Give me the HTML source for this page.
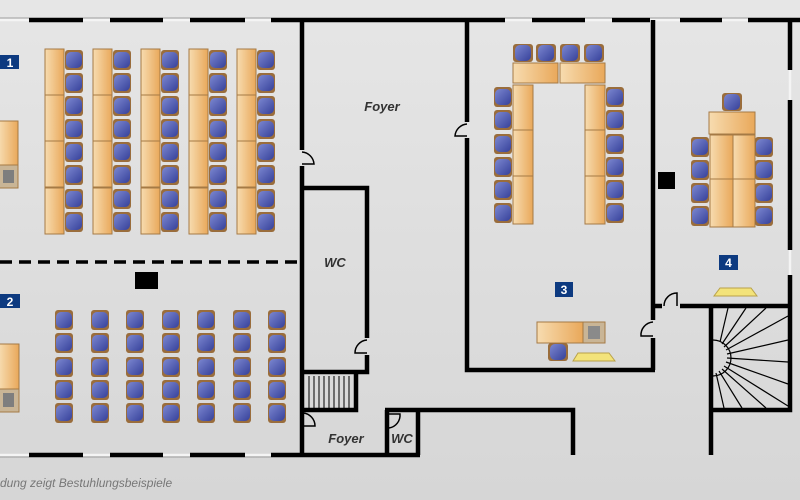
<!DOCTYPE html>
<html><head><meta charset="utf-8"><style>
html,body{margin:0;padding:0;background:#dcdcdc;}
svg{display:block}
text{font-family:"Liberation Sans",sans-serif;}
</style></head><body>
<svg width="800" height="500" viewBox="0 0 800 500" xmlns="http://www.w3.org/2000/svg">
<defs>
<linearGradient id="bg" x1="0" y1="0" x2="0" y2="1"><stop offset="0" stop-color="#e6e6e6"/><stop offset="1" stop-color="#d6d6d6"/></linearGradient>
<linearGradient id="bl" x1="0" y1="0" x2="1" y2="1"><stop offset="0" stop-color="#7c87d0"/><stop offset="1" stop-color="#36419a"/></linearGradient>
<linearGradient id="wd" x1="0" y1="0" x2="1" y2="0"><stop offset="0" stop-color="#f7dcb0"/><stop offset="1" stop-color="#e9a85a"/></linearGradient>
<g id="ch"><rect width="18" height="20" rx="3" fill="#9a6d3c"/><rect x="1" y="2" width="16" height="16" rx="5" fill="url(#bl)"/></g>
<g id="cv"><rect width="20" height="18" rx="3" fill="#9a6d3c"/><rect x="2" y="1" width="16" height="16" rx="5" fill="url(#bl)"/></g>
<rect id="dv" width="19" height="46" fill="url(#wd)" stroke="#a57a45" stroke-width="1"/>
</defs>
<rect width="800" height="500" fill="url(#bg)"/>

<g>
<use href="#dv" x="45" y="49"/><use href="#dv" x="45" y="95"/><use href="#dv" x="45" y="141"/><use href="#dv" x="45" y="188"/>
<use href="#dv" x="93" y="49"/><use href="#dv" x="93" y="95"/><use href="#dv" x="93" y="141"/><use href="#dv" x="93" y="188"/>
<use href="#dv" x="141" y="49"/><use href="#dv" x="141" y="95"/><use href="#dv" x="141" y="141"/><use href="#dv" x="141" y="188"/>
<use href="#dv" x="189" y="49"/><use href="#dv" x="189" y="95"/><use href="#dv" x="189" y="141"/><use href="#dv" x="189" y="188"/>
<use href="#dv" x="237" y="49"/><use href="#dv" x="237" y="95"/><use href="#dv" x="237" y="141"/><use href="#dv" x="237" y="188"/>
</g>
<g id="c1">
<use href="#ch" x="65" y="50"/><use href="#ch" x="65" y="73"/><use href="#ch" x="65" y="96"/><use href="#ch" x="65" y="119"/><use href="#ch" x="65" y="142"/><use href="#ch" x="65" y="165"/><use href="#ch" x="65" y="189"/><use href="#ch" x="65" y="212"/>
</g>
<use href="#c1" x="48"/><use href="#c1" x="96"/><use href="#c1" x="144"/><use href="#c1" x="192"/>
<rect x="-1" y="121" width="19" height="44" fill="url(#wd)" stroke="#a57a45"/>
<rect x="-1" y="165" width="19" height="23" fill="#c9b596" stroke="#a57a45"/>
<rect x="3" y="170" width="11" height="13" fill="#7e7e7e"/>
<rect x="0" y="55" width="19" height="14" fill="#0d3a80"/><text x="10" y="67" font-size="12" font-weight="bold" fill="#fff" text-anchor="middle">1</text>

<line x1="0" y1="262" x2="302" y2="262" stroke="#000" stroke-width="3.5" stroke-dasharray="12,7"/>
<rect x="135" y="272" width="23" height="17" fill="#000"/>

<g id="c2"><use href="#ch" x="55" y="310"/><use href="#ch" x="55" y="333"/><use href="#ch" x="55" y="357"/><use href="#ch" x="55" y="380"/><use href="#ch" x="55" y="403"/></g>
<use href="#c2" x="36"/><use href="#c2" x="71"/><use href="#c2" x="107"/><use href="#c2" x="142"/><use href="#c2" x="178"/><use href="#c2" x="213"/>
<rect x="-1" y="344" width="20" height="45" fill="url(#wd)" stroke="#a57a45"/>
<rect x="-1" y="389" width="20" height="23" fill="#c9b596" stroke="#a57a45"/>
<rect x="3" y="393" width="11" height="14" fill="#7e7e7e"/>
<rect x="0" y="294" width="20" height="14" fill="#0d3a80"/><text x="10" y="306" font-size="12" font-weight="bold" fill="#fff" text-anchor="middle">2</text>

<use href="#cv" x="513" y="44"/><use href="#cv" x="536" y="44"/><use href="#cv" x="560" y="44"/><use href="#cv" x="584" y="44"/>
<rect x="513" y="63" width="45" height="20" fill="url(#wd)" stroke="#a57a45"/>
<rect x="560" y="63" width="45" height="20" fill="url(#wd)" stroke="#a57a45"/>
<rect x="513" y="85" width="20" height="45" fill="url(#wd)" stroke="#a57a45"/>
<rect x="513" y="130" width="20" height="46" fill="url(#wd)" stroke="#a57a45"/>
<rect x="513" y="176" width="20" height="48" fill="url(#wd)" stroke="#a57a45"/>
<rect x="585" y="85" width="20" height="45" fill="url(#wd)" stroke="#a57a45"/>
<rect x="585" y="130" width="20" height="46" fill="url(#wd)" stroke="#a57a45"/>
<rect x="585" y="176" width="20" height="48" fill="url(#wd)" stroke="#a57a45"/>
<g id="c3"><use href="#ch" x="494" y="87"/><use href="#ch" x="494" y="110"/><use href="#ch" x="494" y="134"/><use href="#ch" x="494" y="157"/><use href="#ch" x="494" y="180"/><use href="#ch" x="494" y="203"/></g>
<use href="#c3" x="112"/>
<rect x="555" y="282" width="18" height="15" fill="#0d3a80"/><text x="564" y="294" font-size="12" font-weight="bold" fill="#fff" text-anchor="middle">3</text>
<rect x="537" y="322" width="46" height="21" fill="url(#wd)" stroke="#a57a45"/>
<rect x="583" y="322" width="22" height="21" fill="#c9b596" stroke="#a57a45"/>
<rect x="588" y="326" width="12" height="13" fill="#8a8a8a"/>
<use href="#cv" x="548" y="343"/>
<polygon points="578,353 609,353 615,361 573,361" fill="#f3e37a" stroke="#b9a24a"/>

<use href="#cv" x="722" y="93"/>
<rect x="709" y="112" width="46" height="22" fill="url(#wd)" stroke="#a57a45"/>
<rect x="710" y="135" width="23" height="44" fill="url(#wd)" stroke="#a57a45"/>
<rect x="733" y="135" width="22" height="44" fill="url(#wd)" stroke="#a57a45"/>
<rect x="710" y="179" width="23" height="48" fill="url(#wd)" stroke="#a57a45"/>
<rect x="733" y="179" width="22" height="48" fill="url(#wd)" stroke="#a57a45"/>
<g id="c4"><use href="#ch" x="691" y="137"/><use href="#ch" x="691" y="160"/><use href="#ch" x="691" y="183"/><use href="#ch" x="691" y="206"/></g>
<use href="#c4" x="64"/>
<rect x="719" y="255" width="19" height="15" fill="#0d3a80"/><text x="728.5" y="267" font-size="12" font-weight="bold" fill="#fff" text-anchor="middle">4</text>
<polygon points="720,288 751,288 757,296 714,296" fill="#f3e37a" stroke="#b9a24a"/>
<rect x="658" y="172" width="17" height="17" fill="#000"/>

<!-- windows -->
<g stroke="#f4f4f4" stroke-width="2.5">
<path d="M0,20 H29 M83,20 H110 M163,20 H190 M245,20 H271 M505,20 H532 M585,20 H612 M650,20 H680 M722,20 H748"/>
<path d="M0,455 H29 M83,455 H110 M163,455 H190 M245,455 H271"/>
<path d="M790,70 V100 M790,250 V275"/>
</g>
<g stroke="#888" stroke-width="0.8">
<path d="M0,18 H29 M83,18 H110 M163,18 H190 M245,18 H271 M505,18 H532 M585,18 H612 M650,18 H680 M722,18 H748"/>
<path d="M0,457 H29 M83,457 H110 M163,457 H190 M245,457 H271"/>
</g>

<g stroke="#000" stroke-width="4.5" fill="none">
<path d="M29,20 H83 M110,20 H163 M190,20 H245 M271,20 H505 M532,20 H585 M612,20 H650 M680,20 H722 M748,20 H800"/>
<path d="M29,455 H83 M110,455 H163 M190,455 H245 M271,455 H420"/>
<path d="M302,20 V150 M302,166 V455"/>
<path d="M467,20 V122 M467,138 V370 H655"/>
<path d="M653,20 V306 H662 M680,306 H790 M653,306 V320 M653,338 V370"/>
<path d="M790,20 V70 M790,100 V250 M790,275 V306"/>
<path d="M711,306 V455 M711,410 H790 V306"/>
<path d="M302,188 H367 V338 M367,355 V372 H302"/>
<path d="M302,410 H356 V374"/>
<path d="M385,410 H573 V455"/>
<path d="M387,410 V455"/>
<path d="M418,410 V455"/>
</g>
<g stroke="#000" stroke-width="1.5" fill="none">
<path d="M302,152 A13,13 0 0 1 314,164 L302,164"/>
<path d="M467,124 A13,13 0 0 0 455,136 L467,136"/>
<path d="M367,340 A13,13 0 0 0 355,353 L367,353"/>
<path d="M653,322 A13,13 0 0 0 641,336 L653,336"/>
<path d="M664,306 A13,13 0 0 1 677,293 L677,306"/>
<path d="M303,413 A13,13 0 0 1 315,426 L303,426"/>
<path d="M389,428 A13,13 0 0 0 400,414 L389,414"/>
</g>
<g stroke="#000" stroke-width="1">
<line x1="309" y1="376" x2="309" y2="408"/><line x1="314" y1="376" x2="314" y2="408"/><line x1="319" y1="376" x2="319" y2="408"/><line x1="324" y1="376" x2="324" y2="408"/><line x1="329" y1="376" x2="329" y2="408"/><line x1="334" y1="376" x2="334" y2="408"/><line x1="339" y1="376" x2="339" y2="408"/><line x1="344" y1="376" x2="344" y2="408"/><line x1="349" y1="376" x2="349" y2="408"/>
</g>
<g stroke="#000" stroke-width="1.2" fill="none">
<path d="M713,340 A16,16 0 0 1 713,376"/>
<line x1="720" y1="342" x2="728" y2="308"/><line x1="722" y1="344" x2="746" y2="308"/><line x1="724" y1="347" x2="766" y2="308"/><line x1="726" y1="350" x2="788" y2="316"/><line x1="727" y1="354" x2="788" y2="340"/><line x1="727" y1="358" x2="788" y2="362"/><line x1="726" y1="362" x2="788" y2="384"/><line x1="724" y1="366" x2="788" y2="406"/><line x1="722" y1="369" x2="766" y2="408"/><line x1="719" y1="371" x2="742" y2="408"/><line x1="716" y1="373" x2="724" y2="408"/>
</g>

<g font-style="italic" font-weight="bold" font-size="13" fill="#333" text-anchor="middle">
<text x="382" y="111">Foyer</text>
<text x="335" y="267">WC</text>
<text x="346" y="443">Foyer</text>
<text x="402" y="443">WC</text>
</g>
<text x="0" y="487" font-size="12" font-style="italic" fill="#777">dung zeigt Bestuhlungsbeispiele</text>
</svg>
</body></html>
